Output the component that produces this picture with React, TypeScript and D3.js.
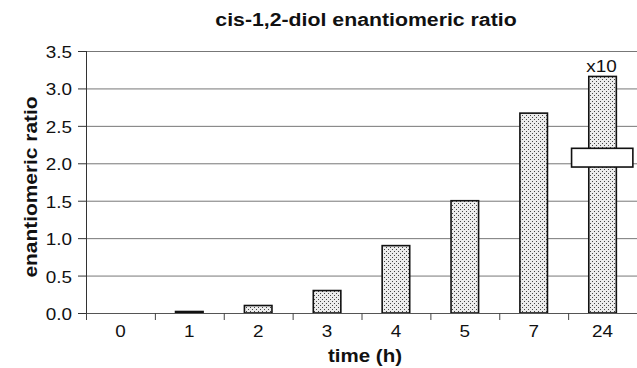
import { useEffect, useRef } from 'react';
import * as d3 from 'd3';

const categories = ['0', '1', '2', '3', '4', '5', '7', '24'];
const ratios = [0, 0.02, 0.1, 0.3, 0.9, 1.5, 2.67, 3.16];
const yTicks = [0, 0.5, 1, 1.5, 2, 2.5, 3, 3.5];
const breakCategory = '24';
const breakRange = [1.95, 2.2];

export default function App() {
  const ref = useRef<SVGSVGElement>(null);

  useEffect(() => {
    if (!ref.current) return;
    const W = 637, H = 368;
    const margin = { top: 51, right: 0, bottom: 55, left: 86 };
    const width = W - margin.left - margin.right;
    const height = H - margin.top - margin.bottom;
    const font = 'Liberation Sans, Arial, sans-serif';

    const svg = d3.select(ref.current);
    svg.selectAll('*').remove();
    svg.attr('width', W).attr('height', H).attr('viewBox', `0 0 ${W} ${H}`);

    // helper: text stretched along its own direction (source glyphs are wider than Arial)
    const label = (parent: any, x: number, y: number, str: string, size: number, opts: any = {}) =>
      parent.append('text')
        .attr('transform', `translate(${x},${y})${opts.rotate ? ` rotate(${opts.rotate})` : ''} scale(${opts.sx ?? 1.18},1)`)
        .attr('text-anchor', opts.anchor ?? 'middle')
        .attr('font-family', font).attr('font-size', size)
        .attr('font-weight', opts.bold ? 'bold' : 'normal')
        .attr('fill', '#111')
        .text(str);

    // stipple pattern for the bars
    const defs = svg.append('defs');
    const pat = defs.append('pattern')
      .attr('id', 'stipple').attr('patternUnits', 'userSpaceOnUse')
      .attr('width', 4).attr('height', 4);
    pat.append('rect').attr('width', 4).attr('height', 4).attr('fill', '#ececec');
    pat.append('rect').attr('x', 0).attr('y', 0).attr('width', 1).attr('height', 1).attr('fill', '#444');
    pat.append('rect').attr('x', 2).attr('y', 2).attr('width', 1).attr('height', 1).attr('fill', '#444');

    const x = d3.scaleBand<string>().domain(categories).range([0, width]).paddingInner(0).paddingOuter(0);
    const y = d3.scaleLinear().domain([0, 3.5]).range([height, 0]);

    const g = svg.append('g').attr('transform', `translate(${margin.left},${margin.top})`);

    // gridlines
    g.selectAll('line.grid')
      .data(yTicks.filter(t => t > 0))
      .enter().append('line')
      .attr('x1', 0).attr('x2', width)
      .attr('y1', d => y(d) + 0.5).attr('y2', d => y(d) + 0.5)
      .attr('stroke', '#777').attr('stroke-width', 1);

    // bars
    const bw = x.bandwidth() * 0.4;
    g.selectAll('rect.bar')
      .data(ratios.map((v, i) => ({ c: categories[i], v })).filter(d => d.v > 0))
      .enter().append('rect')
      .attr('x', d => x(d.c)! + (x.bandwidth() - bw) / 2)
      .attr('width', bw)
      .attr('y', d => y(d.v))
      .attr('height', d => y(0) - y(d.v))
      .attr('fill', 'url(#stipple)')
      .attr('stroke', '#111').attr('stroke-width', 1.6);

    // axis break box on the 24 h bar
    const bx = x(breakCategory)!;
    g.append('rect')
      .attr('x', bx + x.bandwidth() * 0.05)
      .attr('width', x.bandwidth() * 0.89)
      .attr('y', y(breakRange[1]))
      .attr('height', y(breakRange[0]) - y(breakRange[1]))
      .attr('fill', '#fff').attr('stroke', '#111').attr('stroke-width', 1.6);

    label(g, bx + x.bandwidth() / 2 - 1, y(ratios[ratios.length - 1]) - 4, 'x10', 16);

    // y axis
    g.append('line').attr('x1', 0.5).attr('x2', 0.5).attr('y1', 0).attr('y2', height).attr('stroke', '#333');
    yTicks.forEach(t => {
      g.append('line').attr('x1', -8).attr('x2', 0).attr('y1', y(t) + 0.5).attr('y2', y(t) + 0.5).attr('stroke', '#333');
      label(g, -14, y(t) + 7, d3.format('.1f')(t), 16, { anchor: 'end' });
    });

    // x axis
    const xAxis = g.append('g').attr('transform', `translate(0,${height})`);
    xAxis.append('line').attr('x1', 0).attr('x2', width).attr('y1', 0.5).attr('y2', 0.5).attr('stroke', '#555');
    xAxis.selectAll('line.tick')
      .data(categories)
      .enter().append('line')
      .attr('x1', d => x(d)! + 0.5).attr('x2', d => x(d)! + 0.5)
      .attr('y1', 0).attr('y2', 7)
      .attr('stroke', '#444');
    categories.forEach(c => label(xAxis, x(c)! + x.bandwidth() / 2, 24, c, 16));

    // titles
    label(svg, 366, 26, 'cis-1,2-diol enantiomeric ratio', 19, { bold: true, sx: 1.12 });
    label(svg, 365, 362, 'time (h)', 18, { bold: true, sx: 1.14 });
    label(svg, 37, 187, 'enantiomeric ratio', 19, { bold: true, rotate: -90, sx: 1.1 });
  }, []);

  return <svg ref={ref} style={{ display: 'block', position: 'absolute', left: 0, top: 0 }} />;
}
